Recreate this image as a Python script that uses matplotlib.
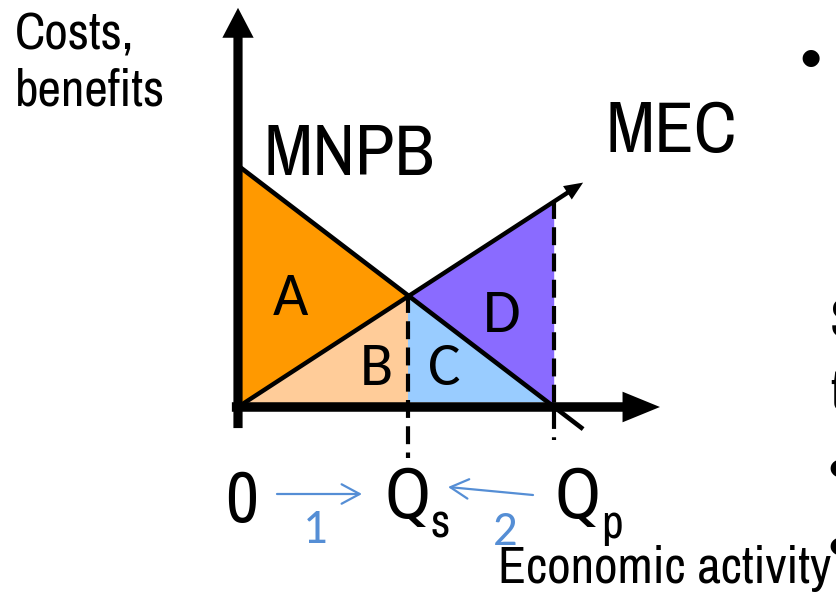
import numpy as np
import matplotlib
matplotlib.use('Agg')
import matplotlib.pyplot as plt
from matplotlib import font_manager

# pick the narrow sans that is installed
names = {f.name for f in font_manager.fontManager.ttflist}
NARROW = next((n for n in ['Liberation Sans Narrow', 'Archivo Narrow', 'Roboto Condensed']
               if n in names), 'Liberation Sans')
CALI = 'Carlito' if 'Carlito' in names else 'Lato'

# diagram values (arbitrary units)
Q_S = 5.0            # social optimum
Q_P = 9.3            # private optimum
MNPB_X = [0.0, 10.15]
MNPB_Y = [7.1, -0.65]
MEC_X = [0.0, 10.15]
MEC_Y = [0.0, 6.6]
AREA_LABELS = ['A', 'B', 'C', 'D']
AREA_COLORS = ['#FF9900', '#FFCC99', '#99CCFF', '#8A6BFF']

# layout: 34 px per unit, origin at pixel (238, 407)
SCALE = 34.0
OX, OY = 238.0, 407.0
W, H = 837, 593


def px(x, y):
    return ((x - OX) / SCALE, (OY - y) / SCALE)


def main():
    fig = plt.figure(figsize=(W / 100, H / 100), dpi=100)
    ax = fig.add_axes([0, 0, 1, 1])
    ax.set_xlim(-OX / SCALE, (W - OX) / SCALE)
    ax.set_ylim(-(H - OY) / SCALE, OY / SCALE)
    ax.axis('off')

    cross = np.interp(Q_S, MNPB_X, MNPB_Y)
    mec_qp = np.interp(Q_P, MEC_X, MEC_Y)

    # the four areas
    areas = [
        [(0, MNPB_Y[0]), (Q_S, cross), (0, 0)],
        [(0, 0), (Q_S, cross), (Q_S, 0)],
        [(Q_S, cross), (Q_S, 0.15), (Q_P, 0.15)],
        [(Q_S, cross), (Q_P, mec_qp), (Q_P, 0)],
    ]
    for pts, col in zip(areas, AREA_COLORS):
        xs, ys = zip(*pts)
        ax.fill(xs, ys, color=col, lw=0, zorder=1)

    # dashed drops to the axis
    ax.plot([Q_S, Q_S], [cross, -1.5], color='k', lw=3, ls=(0, (4.3, 2)), zorder=2)
    ax.plot([Q_P, Q_P], [mec_qp, -0.97], color='k', lw=3, ls=(0, (4.3, 2)), zorder=2)

    # curves
    ax.plot(MNPB_X, MNPB_Y, color='k', lw=3.3, solid_capstyle='butt', zorder=3)
    ax.arrow(MEC_X[0], MEC_Y[0], MEC_X[1] - MEC_X[0], MEC_Y[1] - MEC_Y[0],
             width=0.13, head_width=0.47, head_length=0.55,
             length_includes_head=True, color='k', lw=0, zorder=3)

    # axes with arrows
    ax.arrow(0, -0.62, 0, 11.74 + 0.62, width=0.27, head_width=0.92,
             head_length=0.88, length_includes_head=True, color='k', lw=0, zorder=4)
    ax.arrow(-0.18, 0, 12.41 + 0.18, 0, width=0.28, head_width=0.9,
             head_length=1.1, length_includes_head=True, color='k', lw=0, zorder=4)

    # area letters
    for lab, (x, y) in zip(AREA_LABELS, [(290, 315), (376, 385), (444, 385), (502, 332)]):
        ax.text(*px(x, y), lab, fontsize=44, family=CALI, ha='center', va='baseline', zorder=5)

    # axis texts
    ax.text(*px(15, 50), 'Costs,', fontsize=37, family=NARROW, va='baseline')
    ax.text(*px(15, 106), 'benefits', fontsize=37, family=NARROW, va='baseline')
    ax.text(*px(263, 175), 'MNPB', fontsize=52, family=NARROW, va='baseline')
    ax.text(*px(605, 152), 'MEC', fontsize=52, family=NARROW, va='baseline')
    ax.text(*px(225, 522), '0', fontsize=52, family=NARROW, va='baseline')
    ax.text(*px(385, 518), 'Q', fontsize=52, family=NARROW, va='baseline')
    ax.text(*px(431, 538), 's', fontsize=34, family=NARROW, va='baseline')
    ax.text(*px(555, 518), 'Q', fontsize=52, family=NARROW, va='baseline')
    ax.text(*px(601, 538), 'p', fontsize=34, family=NARROW, va='baseline')
    ax.text(*px(498, 583), 'Economic activity', fontsize=37, family=NARROW, va='baseline')

    # movement arrows
    blue = '#558ED5'
    ax.annotate('', xy=px(362, 494), xytext=px(277, 494),
                arrowprops=dict(arrowstyle='->,head_length=13,head_width=7', color=blue,
                                lw=1.6, shrinkA=0, shrinkB=0, mutation_scale=1))
    ax.annotate('', xy=px(448, 487), xytext=px(533, 495),
                arrowprops=dict(arrowstyle='->,head_length=13,head_width=7', color=blue,
                                lw=1.6, shrinkA=0, shrinkB=0, mutation_scale=1))
    ax.text(*px(315, 543), '1', fontsize=35, family=CALI, color=blue, ha='center', va='baseline')
    ax.text(*px(505, 545), '2', fontsize=35, family=CALI, color=blue, ha='center', va='baseline')

    # cut-off slide text on the right
    ax.text(*px(810, 85), '•', fontsize=56, family=NARROW, ha='center', va='baseline')
    ax.text(*px(838, 495), '•', fontsize=56, family=NARROW, ha='center', va='baseline')
    ax.text(*px(838, 573), '•', fontsize=56, family=NARROW, ha='center', va='baseline')
    ax.text(*px(830, 337), 'S', fontsize=40, family=NARROW, va='baseline')
    ax.text(*px(830, 410), 't', fontsize=40, family=NARROW, va='baseline')

    fig.savefig('out.png', dpi=100, facecolor='white')


main()
